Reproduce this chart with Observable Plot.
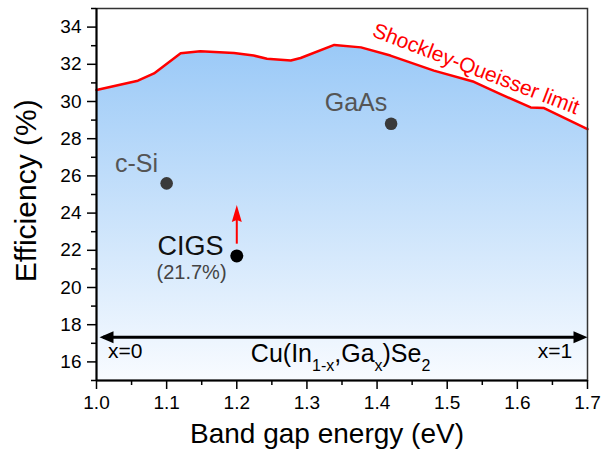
<!DOCTYPE html>
<html>
<head>
<meta charset="utf-8">
<script src="https://cdn.jsdelivr.net/npm/d3@7"></script>
<script src="https://cdn.jsdelivr.net/npm/@observablehq/plot@0.6"></script>
<style>
  html, body { margin: 0; padding: 0; background: #fff; }
</style>
</head>
<body>
<div id="chart"></div>
<script>
// Shockley–Queisser limit (band gap eV, efficiency %)
const sqEnergy = [1.00, 1.059, 1.082, 1.12, 1.148, 1.196, 1.224, 1.243, 1.277, 1.291, 1.339, 1.377, 1.419, 1.481, 1.538, 1.576, 1.619, 1.638, 1.70];
const sqEff    = [30.62, 31.12, 31.51, 32.59, 32.70, 32.61, 32.47, 32.30, 32.20, 32.34, 33.04, 32.91, 32.47, 31.66, 31.06, 30.40, 29.68, 29.65, 28.51];

// Record cells
const devices = ["c-Si", "GaAs", "CIGS"];
const devEg   = [1.10, 1.42, 1.20];
const devEff  = [25.6, 28.8, 21.7];

// Axis ticks
const xTicks = [1.0, 1.1, 1.2, 1.3, 1.4, 1.5, 1.6, 1.7];
const xMinor = [1.05, 1.15, 1.25, 1.35, 1.45, 1.55, 1.65];
const yTicks = [16, 18, 20, 22, 24, 26, 28, 30, 32, 34];
const yMinor = [15, 17, 19, 21, 23, 25, 27, 29, 31, 33, 35];

// Texts
const xTitle = "Band gap energy (eV)";
const yTitle = "Efficiency (%)";
const sqLabel = "Shockley-Queisser limit";
const cigsValue = "(21.7%)";
const compLabel = "Cu(In1-x,Gax)Se2";
const xEnds = ["x=0", "x=1"];

const sq = sqEnergy.map((e, i) => ({e, eff: sqEff[i]}));
const dev = devices.map((d, i) => ({name: d, e: devEg[i], eff: devEff[i]}));

const font = "Liberation Sans, Arial, Helvetica, sans-serif";

const headLeft = {draw(ctx) { ctx.moveTo(0, 0); ctx.lineTo(14, -6); ctx.lineTo(14, 6); ctx.closePath(); }};
const headRight = {draw(ctx) { ctx.moveTo(0, 0); ctx.lineTo(-14, -6); ctx.lineTo(-14, 6); ctx.closePath(); }};
const headUp = {draw(ctx) { ctx.moveTo(0, 0); ctx.lineTo(-5, 17); ctx.lineTo(0, 15); ctx.lineTo(5, 17); ctx.closePath(); }};

const gradientDefs = () => {
  const ns = "http://www.w3.org/2000/svg";
  const defs = document.createElementNS(ns, "defs");
  defs.innerHTML = '<linearGradient id="sqfill" x1="0" y1="0" x2="0" y2="1">' +
    '<stop offset="0" stop-color="#9ac9f7"/><stop offset="1" stop-color="#f8fbff"/></linearGradient>';
  return defs;
};

const chart = Plot.plot({
  width: 601,
  height: 452,
  marginLeft: 96,
  marginRight: 14,
  marginTop: 8,
  marginBottom: 72,
  x: {domain: [1.0, 1.7]},
  y: {domain: [15, 35]},
  style: {fontFamily: font, background: "#fff", overflow: "visible"},
  marks: [
    gradientDefs,
    Plot.areaY(sq, {x: "e", y1: 15, y2: "eff", fill: "url(#sqfill)"}),
    Plot.lineY(sq, {x: "e", y: "eff", stroke: "#ff0000", strokeWidth: 2.5}),
    Plot.frame({stroke: "#333", strokeWidth: 1.5}),
    Plot.ruleX([1.0], {y1: 15, y2: 35, stroke: "#000", strokeWidth: 2}),
    Plot.ruleY([15], {x1: 1.0, x2: 1.7, stroke: "#000", strokeWidth: 2}),
    Plot.axisY({ticks: yTicks, tickSize: 9, tickPadding: 6, fontSize: 19, label: null, tickFormat: d => d, strokeWidth: 1.5}),
    Plot.axisY({ticks: yMinor, tickSize: 5, label: null, tickFormat: () => "", strokeWidth: 1.5}),
    Plot.axisX({ticks: xTicks, tickSize: 9, tickPadding: 6, fontSize: 19, label: null, tickFormat: d3.format(".1f"), strokeWidth: 1.5}),
    Plot.axisX({ticks: xMinor, tickSize: 5, label: null, tickFormat: () => "", strokeWidth: 1.5}),
    // composition arrow
    Plot.ruleY([17.32], {x1: 1.01, x2: 1.69, stroke: "#000", strokeWidth: 3}),
    Plot.dot([{x: 1.0043, y: 17.32}], {x: "x", y: "y", symbol: headLeft, fill: "#000", stroke: null}),
    Plot.dot([{x: 1.70, y: 17.32}], {x: "x", y: "y", symbol: headRight, fill: "#000", stroke: null}),
    // red improvement arrow
    Plot.ruleX([1.2], {y1: 22.33, y2: 23.7, stroke: "#ff0000", strokeWidth: 2}),
    Plot.dot([{x: 1.2, y: 24.43}], {x: "x", y: "y", symbol: headUp, fill: "#ff0000", stroke: null}),
    // devices
    Plot.dot(dev.filter(d => d.name !== "CIGS"), {x: "e", y: "eff", r: 6.3, fill: "#3a3a3a", stroke: null}),
    Plot.dot(dev.filter(d => d.name === "CIGS"), {x: "e", y: "eff", r: 6.5, fill: "#000", stroke: null}),
    Plot.text([{t: "c-Si", x: 1.057, y: 26.64}], {x: "x", y: "y", text: "t", fontSize: 25, fill: "#555"}),
    Plot.text([{t: "GaAs", x: 1.370, y: 29.9}], {x: "x", y: "y", text: "t", fontSize: 25, fill: "#555"}),
    Plot.text([{t: "CIGS", x: 1.134, y: 22.22}], {x: "x", y: "y", text: "t", fontSize: 27, fill: "#111"}),
    Plot.text([{t: cigsValue, x: 1.1355, y: 20.82}], {x: "x", y: "y", text: "t", fontSize: 20, fill: "#444"}),
    // SQ label
    Plot.text([{t: sqLabel, x: 1.541, y: 31.75}], {x: "x", y: "y", text: "t", fontSize: 21, fill: "#ff0000", rotate: 21}),
    // composition labels
    Plot.text([{t: xEnds[0], x: 1.041, y: 16.56}], {x: "x", y: "y", text: "t", fontSize: 21, fill: "#000"}),
    Plot.text([{t: xEnds[1], x: 1.6537, y: 16.56}], {x: "x", y: "y", text: "t", fontSize: 21, fill: "#000"}),
    Plot.text([{t: compLabel, x: 1.348, y: 16.44}], {x: "x", y: "y", text: "t", fontSize: 25, fill: "#000"}),
    // axis titles
    Plot.text([{t: xTitle, x: 1.3286, y: 12.12}], {x: "x", y: "y", text: "t", fontSize: 28, fill: "#000"}),
    Plot.text([{t: yTitle, x: 0.9002, y: 25.2}], {x: "x", y: "y", text: "t", fontSize: 30, fill: "#000", rotate: -90})
  ]
});

// Rebuild the composition label with real subscripts
const ns = "http://www.w3.org/2000/svg";
chart.querySelectorAll("text").forEach(t => {
  if (t.textContent === compLabel) {
    while (t.firstChild) t.removeChild(t.firstChild);
    const parts = [["Cu(In", false], ["1-x", true], [",Ga", false], ["x", true], [")Se", false], ["2", true]];
    let shifted = false;
    parts.forEach(([s, sub]) => {
      const ts = document.createElementNS(ns, "tspan");
      ts.textContent = s;
      if (sub) { ts.setAttribute("font-size", "16"); ts.setAttribute("dy", "9"); shifted = true; }
      else if (shifted) { ts.setAttribute("dy", "-9"); shifted = false; }
      t.appendChild(ts);
    });
  }
});

document.getElementById("chart").appendChild(chart);
</script>
</body>
</html>
